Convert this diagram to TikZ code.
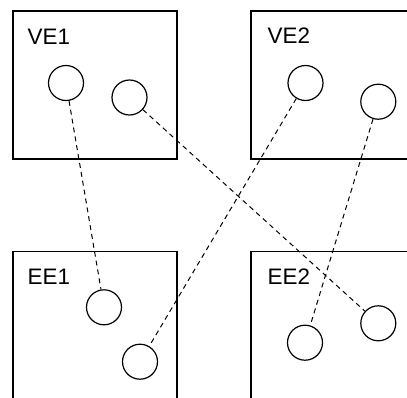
\documentclass[tikz,border=0pt]{standalone}
\usepackage{fontspec}
\setmainfont{Liberation Sans}
\begin{document}
\begin{tikzpicture}[x=1bp,y=-1bp,
  region/.style={draw=black,line width=1.3bp},
  port/.style={circle,draw=black,line width=1.2bp,minimum size=35bp,inner sep=0pt},
  tag/.style={anchor=base west,inner sep=0pt,font=\fontsize{22.5}{26}\selectfont},
  link/.style={draw=black,line width=1bp,dash pattern=on 5bp off 4bp}]
\useasboundingbox (0,0) rectangle (407,398);
\clip (0,0) rectangle (407,398);
% four regions
\draw[region] (13,11) rectangle (177,159);
\draw[region] (251,11) rectangle (420,159);
\draw[region] (13,251.5) rectangle (177,410);
\draw[region] (251,251.5) rectangle (420,410);
\node[tag] (lve1) at (27.5,44.3) {VE1};
\node[tag] (lve2) at (267.5,43.8) {VE2};
\node[tag] (lee1) at (27.5,284.3) {EE1};
\node[tag] (lee2) at (267.5,284.3) {EE2};
% ports
\node[port] (v1a) at (66,83) {};
\node[port] (v1b) at (129.5,97.5) {};
\node[port] (v2a) at (305.5,83) {};
\node[port] (v2b) at (378.3,101.7) {};
\node[port] (e1a) at (104,307.3) {};
\node[port] (e1b) at (140,361.7) {};
\node[port] (e2a) at (305,342.7) {};
\node[port] (e2b) at (378.3,323.3) {};
% links
\draw[link] (v1a) -- (e1a);
\draw[link] (v1b) -- (e2b);
\draw[link] (v2a) -- (e1b);
\draw[link] (v2b) -- (e2a);
\end{tikzpicture}
\end{document}
